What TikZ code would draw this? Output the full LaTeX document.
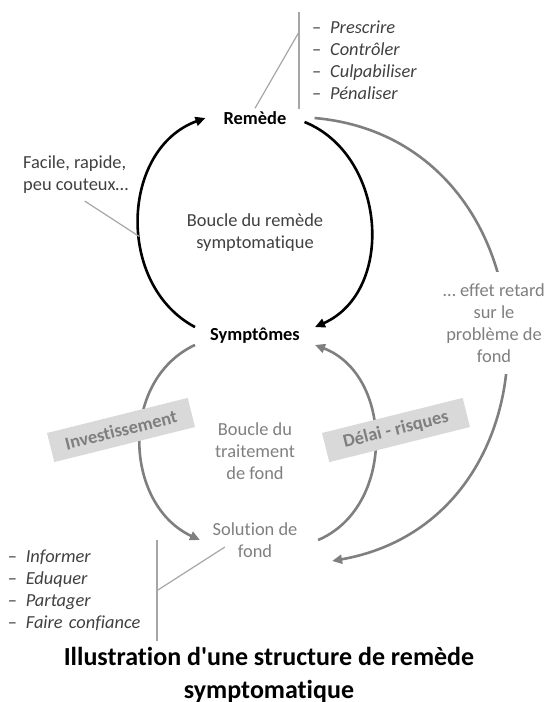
\documentclass[tikz,border=0pt]{standalone}
\usepackage{fontspec}
\setmainfont{Carlito}[Ligatures={TeX,NoCommon}]
\usetikzlibrary{arrows.meta}
\definecolor{grisfonce}{HTML}{404040}
\definecolor{gris}{HTML}{7F7F7F}
\definecolor{grisclair}{HTML}{A6A6A6}
\definecolor{grisfond}{HTML}{D9D9D9}
\newcommand{\tiret}{\makebox[18pt][l]{\textendash}}
\begin{document}
\begin{tikzpicture}[x=1pt,y=1pt,>={Triangle[length=10pt,width=9pt]},line join=round,
	font=\fontsize{18.4}{22}\selectfont,
	pole/.style={font=\fontsize{18.4}{22}\selectfont\bfseries},
	noir/.style={line width=2.6pt,black},
	grisarc/.style={line width=2.6pt,gris},
	trait/.style={line width=1.2pt,grisclair},
	etiquette/.style={fill=grisfond,text=gris,font=\fontsize{18.4}{22}\selectfont\bfseries,minimum width=145pt,minimum height=30pt,inner sep=0pt,rotate=14}]
	\useasboundingbox (0,0) rectangle (557,-702);
	%Noeuds
	\node[pole,inner xsep=18pt,inner ysep=3pt] (rem) at (255,-118) {Remède};
	\node[pole,inner xsep=15pt,inner ysep=1pt] (symp) at (255,-336) {Symptômes};
	\node[text=gris,align=center,inner xsep=12.5pt] (sol) at (255,-540) {Solution de\\fond};
	\node[text=grisfonce,align=center] (bsympt) at (255,-233) {Boucle du remède\\symptomatique};
	\node[text=gris,align=center] (bfond) at (255,-451) {Boucle du\\traitement\\de fond};
	\node[text=grisfonce,align=left,anchor=west,inner sep=0pt] (facile) at (23,-175) {Facile, rapide,\\peu couteux…};
	\node[text=grisfonce,align=left,anchor=north west,inner xsep=13pt,inner ysep=9pt] (lst1) at (299,-12)
	{\tiret\textit{Prescrire}\\\tiret\textit{Contrôler}\\\tiret\textit{Culpabiliser}\\\tiret\textit{Pénaliser}};
	\node[text=grisfonce,align=left,anchor=north east,text width=140pt,inner xsep=9pt,inner ysep=10pt] (lst2) at (157,-540)
	{\tiret\textit{Informer}\\\tiret\textit{Eduquer}\\\tiret\textit{Partager}\\\tiret\textit{Faire confiance}};
	\node[font=\fontsize{26}{33}\selectfont\bfseries,align=center] (titre) at (269,-675)
	{Illustration d\textquotesingle une structure de remède\\symptomatique};
	%Boucle du remède
	\draw[noir,->] (symp.north west) to[out=152,in=200,looseness=1.1] coordinate[pos=0.43] (onarc) (rem.west);
	\draw[noir,->] ([yshift=-4pt]rem.east) to[out=-22,in=24,looseness=1.1] (symp.north east);
	%Boucle du traitement de fond
	\draw[grisarc,->] (symp.south west) to[out=205,in=155,looseness=1.1] (sol.west);
	\draw[grisarc,->] ([xshift=8pt]sol.east) to[out=23,in=-21,looseness=1.1] (symp.south east);
	%Effet retard
	\draw[grisarc,->] ([xshift=10pt]rem.east) to[out=-5,in=10,looseness=1.42] ([xshift=22pt]sol.south east);
	\node[text=gris,align=center,fill=white,inner xsep=2pt,inner ysep=12pt] (retard) at (494,-323) {… effet retard\\sur le\\problème de\\fond};
	%Etiquettes
	\node[etiquette] (invest) at (121,-430) {Investissement};
	\node[etiquette] (delai) at (396,-430) {Délai - risques};
	%Traits
	\draw[trait] ([xshift=9pt,yshift=-7pt]facile.south) -- (onarc);
	\draw[trait] (lst1.north west) -- (lst1.south west);
	\draw[trait] ([yshift=-20pt]lst1.north west) -- (rem.north);
	\draw[trait] (lst2.north east) -- (lst2.south east);
	\draw[trait] (lst2.east) -- ([xshift=25pt,yshift=-7pt]sol.west);
\end{tikzpicture}
\end{document}
